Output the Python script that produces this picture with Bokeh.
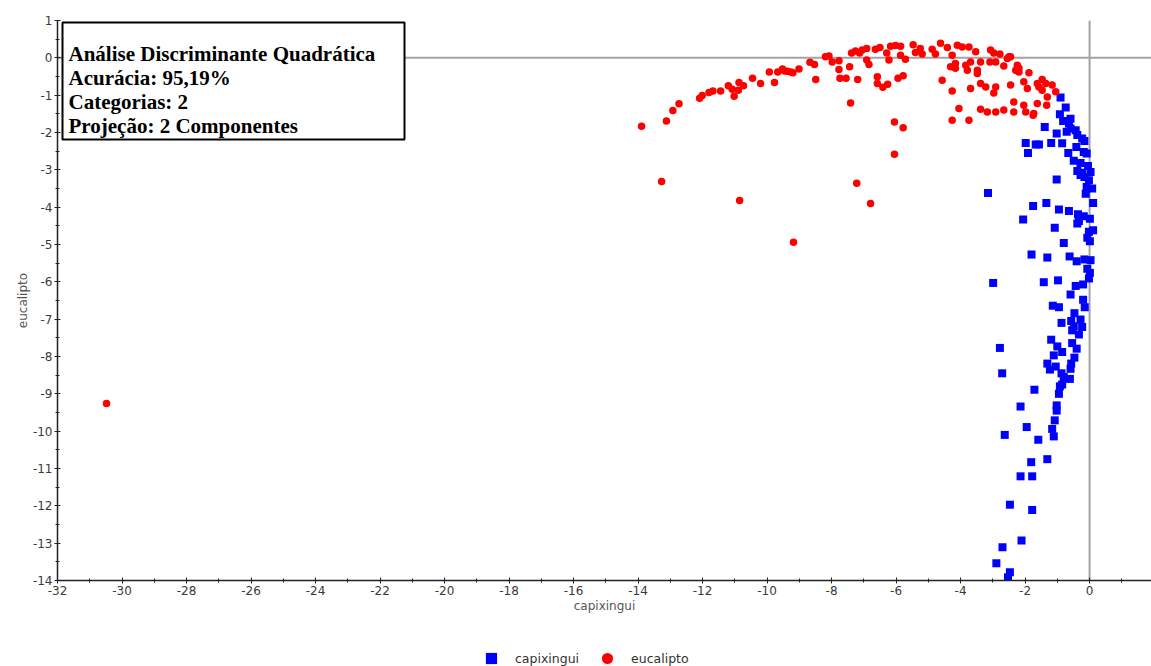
from bokeh.plotting import figure
from bokeh.layouts import column
from bokeh.models import (Range1d, SingleIntervalTicker, Span, BoxAnnotation, Label,
                          Legend, LegendItem, ColumnDataSource, PrintfTickFormatter)
from bokeh.embed import file_html
from bokeh.resources import INLINE

# ---------------- data ----------------
series_names = ["capixingui", "eucalipto"]
series_colors = ["#0000ff", "#ff0000"]

eucalipto_x = [
    -30.48, -13.89, -13.27, -13.12, -12.92, -12.73, -12.09, -12.01, -11.80, -11.68,
    -11.44, -11.20, -11.08, -11.02, -10.87, -10.89, -10.73, -10.85, -10.45, -10.20,
    -9.93, -9.77, -9.67, -9.52, -9.46, -9.37, -9.27, -9.20, -9.01, -9.18,
    -8.67, -8.53, -8.49, -8.19, -8.08, -7.98, -7.77, -7.77, -7.74, -7.55,
    -7.44, -7.41, -7.38, -7.26, -7.19, -7.13, -7.05, -6.91, -6.91, -6.84,
    -7.22, -6.79, -6.64, -6.50, -6.58, -6.58, -6.41, -6.26, -6.29, -6.22,
    -6.17, -6.02, -5.86, -5.94, -5.78, -5.71, -5.86, -6.05, -5.78, -6.05,
    -5.47, -5.40, -5.25, -5.19, -4.88, -4.78, -4.62, -4.57, -4.41, -4.26,
    -4.26, -4.31, -4.16, -4.10, -4.05, -4.26, -4.16, -3.95, -3.74, -3.84,
    -3.79, -3.69, -3.69, -3.74, -3.53, -3.48, -3.48, -3.38, -3.38, -3.38,
    -3.22, -3.17, -3.09, -3.07, -2.97, -2.91, -2.91, -2.91, -2.97, -2.78,
    -2.66, -2.66, -2.55, -2.50, -2.45, -2.35, -2.35, -2.24, -2.19, -2.19,
    -2.04, -2.04, -1.93, -1.88, -1.73, -1.62, -1.62, -1.57, -1.47, -1.47,
    -1.36, -1.31, -1.33, -1.16, -1.05, -1.98, -1.75, -2.45, -2.29,
]
eucalipto_y = [
    -9.26, -1.83, -3.31, -1.69, -1.41, -1.23, -1.08, -1.01, -0.93, -0.89,
    -0.89, -0.75, -0.84, -1.03, -0.66, -0.87, -0.75, -3.82, -0.55, -0.69,
    -0.38, -0.66, -0.38, -0.30, -0.35, -0.36, -0.38, -0.40, -0.30, -4.94,
    -0.12, -0.18, -0.58, 0.03, 0.05, -0.11, -0.08, -0.31, -0.55, -0.55,
    -0.24, -1.21, 0.13, 0.18, -0.58, 0.13, 0.21, 0.25, -0.06, -0.18,
    -3.36, -3.90, 0.23, 0.28, -0.51, -0.69, -0.79, -0.71, 0.13, -0.06,
    0.31, 0.33, 0.31, -0.55, -0.48, -0.04, 0.07, -1.72, -1.87, -2.58,
    0.35, 0.14, 0.25, 0.10, 0.23, 0.10, 0.39, -0.60, 0.28, -0.89,
    -1.67, -0.24, -0.15, 0.34, -1.36, 0.07, -0.28, 0.29, 0.29, -0.20,
    -0.33, -0.11, -0.82, -1.67, 0.16, -0.33, -0.42, -0.11, -0.69, -1.38,
    -0.78, -1.45, -0.11, 0.21, 0.13, -1.45, -0.11, -0.78, -0.94, 0.10,
    -1.40, -0.22, -0.02, 0.03, -0.73, -1.18, -1.45, -0.20, -0.28, -0.38,
    -1.27, -0.64, -0.82, -0.40, -1.49, -1.22, -0.69, -0.78, -0.58, -0.87,
    -0.69, -1.05, -1.27, -0.73, -0.91, -1.45, -1.54, 0.03, -0.33,
]

capixingui_x = [
    -0.90, -0.74, -0.92, -0.82, -0.64, -0.59, -0.71, -0.43, -0.38, -0.23,
    -0.16, -1.39, -1.02, -1.98, -1.91, -1.67, -1.57, -1.19, -0.85, -0.66,
    -0.41, -0.49, -0.18, -0.09, -0.28, -0.05, -0.38, -0.23, -0.16, 0.03,
    -0.02, -0.09, 0.08, -0.12, -1.02, -3.15, -1.75, -1.34, -0.95, -0.64,
    -0.36, -0.18, -2.06, 0.11, 0.01, -0.38, -0.33, -1.08, 0.11, -0.02,
    -0.07, 0.01, -0.80, -1.80, -1.31, -0.62, -0.40, -0.16, 0.03, -0.07,
    0.01, -0.02, -2.99, -1.42, -0.98, -0.43, -0.20, -0.59, -0.20, -0.15,
    -1.14, -0.95, -0.47, -0.87, -0.57, -0.28, -0.49, -0.23, -0.54, -0.33,
    -1.19, -0.54, -2.78, -1.00, -0.40, -0.85, -1.11, -0.47, -1.31, -1.05,
    -1.23, -0.57, -0.59, -0.87, -2.71, -0.80, -0.61, -0.85, -0.92, -1.71,
    -0.95, -2.14, -1.02, -1.02, -1.08, -1.95, -1.16, -2.63, -1.11, -1.59,
    -1.31, -1.81, -2.14, -1.78, -2.47, -1.78, -2.11, -2.70, -2.89, -2.47,
    -2.53, -0.28, -0.59,
]
capixingui_y = [
    -1.06, -1.33, -1.51, -1.69, -1.76, -1.89, -1.98, -1.94, -2.07, -2.16,
    -2.23, -1.85, -2.03, -2.28, -2.55, -2.32, -2.32, -2.28, -2.29, -2.55,
    -2.39, -2.76, -2.52, -2.56, -2.82, -2.90, -3.03, -3.08, -3.19, -3.06,
    -3.28, -3.46, -3.50, -3.64, -3.26, -3.62, -3.97, -3.89, -4.06, -4.10,
    -4.19, -4.24, -4.33, -3.89, -4.31, -4.44, -4.37, -4.55, -4.62, -4.66,
    -4.82, -4.91, -4.96, -5.27, -5.35, -5.32, -5.45, -5.40, -5.42, -5.65,
    -5.76, -5.91, -6.03, -6.01, -5.96, -6.11, -6.07, -6.34, -6.48, -6.68,
    -6.64, -6.68, -6.84, -7.10, -7.05, -7.01, -7.19, -7.21, -7.30, -7.41,
    -7.55, -7.64, -7.77, -7.73, -7.79, -7.88, -7.97, -8.03, -8.19, -8.27,
    -8.35, -8.19, -8.33, -8.45, -8.45, -8.55, -8.60, -8.75, -8.80, -8.89,
    -9.00, -9.34, -9.31, -9.45, -9.71, -9.89, -9.94, -10.10, -10.14, -10.23,
    -10.75, -10.83, -11.21, -11.21, -11.97, -12.11, -12.93, -13.11, -13.54, -13.78,
    -13.91, -3.14, -1.63,
]

info_lines = [
    "Análise Discriminante Quadrática",
    "Acurácia: 95,19%",
    "Categorias: 2",
    "Projeção: 2 Componentes",
]
x_label = "capixingui"
y_label = "eucalipto"

src_b = ColumnDataSource(dict(x=capixingui_x, y=capixingui_y))
src_r = ColumnDataSource(dict(x=eucalipto_x, y=eucalipto_y))

# ---------------- main figure ----------------
p = figure(width=1151, height=622, output_backend="svg", toolbar_location=None,
           x_range=Range1d(-32, 1.92), y_range=Range1d(-14, 1),
           min_border_left=57, min_border_right=0, min_border_top=20, min_border_bottom=42)
p.outline_line_color = None
p.xgrid.visible = False
p.ygrid.visible = False
p.background_fill_color = "white"

p.xaxis.ticker = SingleIntervalTicker(interval=2, num_minor_ticks=2)
p.yaxis.ticker = SingleIntervalTicker(interval=1, num_minor_ticks=2)
for ax in (p.xaxis, p.yaxis):
    ax.formatter = PrintfTickFormatter(format="%d")
    ax.axis_line_color = "#222222"
    ax.axis_line_width = 1.5
    ax.major_tick_line_color = "#222222"
    ax.minor_tick_line_color = "#222222"
    ax.major_tick_in = 3
    ax.major_tick_out = 3
    ax.minor_tick_in = 2
    ax.minor_tick_out = 2
    ax.major_label_text_font = "DejaVu Sans"
    ax.major_label_text_font_size = "12px"
    ax.major_label_text_color = "#3a3a3a"
    ax.major_label_standoff = 2
    ax.axis_label_text_font = "DejaVu Sans"
    ax.axis_label_text_font_size = "12px"
    ax.axis_label_text_font_style = "normal"
    ax.axis_label_text_color = "#555555"

p.xaxis.axis_label = x_label
p.yaxis.axis_label = y_label
p.xaxis.axis_label_standoff = 1
p.yaxis.axis_label_standoff = 0

p.add_layout(Span(location=0, dimension="height", line_color="#a3a3a3", line_width=2, level="underlay"))
p.add_layout(Span(location=0, dimension="width", line_color="#a3a3a3", line_width=2, level="underlay"))

p.scatter("x", "y", source=src_b, marker="square", size=8,
          fill_color=series_colors[0], line_color=None)
p.scatter("x", "y", source=src_r, marker="circle", size=7.5,
          fill_color=series_colors[1], line_color=None)

# info box
p.add_layout(BoxAnnotation(left=5, right=347, top=558, bottom=441,
                           left_units="screen", right_units="screen",
                           top_units="screen", bottom_units="screen",
                           fill_color="white", fill_alpha=1.0,
                           line_color="black", line_alpha=1.0, line_width=2))
for i, line in enumerate(info_lines):
    p.add_layout(Label(x=11, y=527 - 24 * i, x_units="screen", y_units="screen",
                       text=line, text_font="Liberation Serif", text_font_style="bold",
                       text_font_size="21px", text_baseline="alphabetic", text_color="black"))

# ---------------- legend strip (same series, its view shows no points) ----------------
q = figure(width=1151, height=44, output_backend="svg", toolbar_location=None,
           x_axis_type=None, y_axis_type=None,
           x_range=Range1d(100, 101), y_range=Range1d(100, 101),
           min_border_left=0, min_border_right=0, min_border_top=0, min_border_bottom=0)
q.outline_line_color = None
lb = q.scatter("x", "y", source=src_b, marker="square", size=8,
               fill_color=series_colors[0], line_color=None)
lr = q.scatter("x", "y", source=src_r, marker="circle", size=8,
               fill_color=series_colors[1], line_color=None)
legend = Legend(items=[LegendItem(label=series_names[0], renderers=[lb]),
                       LegendItem(label=series_names[1], renderers=[lr])],
                location=(420, -6), orientation="horizontal",
                glyph_width=28, glyph_height=28, label_standoff=10, spacing=14,
                padding=0, margin=0, border_line_color=None, background_fill_alpha=0,
                label_text_font="DejaVu Sans", label_text_font_size="12.5px",
                label_text_color="#333333")
q.add_layout(legend)

layout = column(p, q, spacing=0)
open("out.html", "w").write(file_html(layout, INLINE))
